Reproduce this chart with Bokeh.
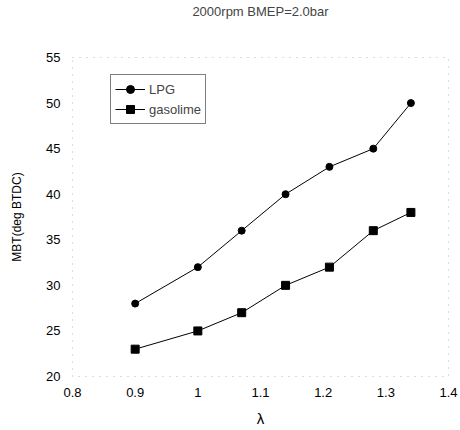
from bokeh.plotting import figure
from bokeh.embed import file_html
from bokeh.resources import INLINE
from bokeh.models import Range1d, FixedTicker, Legend, LegendItem, Title

# Data
lam = [0.9, 1.0, 1.07, 1.14, 1.21, 1.28, 1.34]
lpg = [28, 32, 36, 40, 43, 45, 50]
gasoline = [23, 25, 27, 30, 32, 36, 38]
x_ticks = [0.8, 0.9, 1.0, 1.1, 1.2, 1.3, 1.4]
y_ticks = [20, 25, 30, 35, 40, 45, 50, 55]
x_tick_labels = {0.8: "0.8", 0.9: "0.9", 1.0: "1", 1.1: "1.1", 1.2: "1.2", 1.3: "1.3", 1.4: "1.4"}
title_text = "2000rpm BMEP=2.0bar"

FONT = "Liberation Sans"

p = figure(width=460, height=430, output_backend="svg", toolbar_location=None,
           x_range=Range1d(0.8, 1.4), y_range=Range1d(20, 55),
           min_border_left=72, min_border_right=12, min_border_top=57, min_border_bottom=54)

# two trailing empty lines lift the title text away from the frame
p.title = Title(text=title_text + "\n\n", align="center", vertical_align="bottom",
                text_font=FONT, text_font_size="13px", text_font_style="normal",
                text_line_height=1.3, offset=10, standoff=0)

p.grid.visible = False
p.outline_line_color = "#bbbbbb"
p.outline_line_dash = "1 6"
p.outline_line_width = 1
p.background_fill_color = "white"
p.border_fill_color = "white"

for ax in (p.xaxis[0], p.yaxis[0]):
    ax.axis_line_color = None
    ax.major_tick_line_color = None
    ax.minor_tick_line_color = None
    ax.major_label_text_font = FONT
    ax.major_label_text_font_size = "13px"
    ax.major_label_text_color = "black"
    ax.axis_label_text_font = FONT
    ax.axis_label_text_font_style = "normal"
    ax.axis_label_text_color = "black"

p.xaxis.ticker = FixedTicker(ticks=x_ticks)
p.xaxis.major_label_overrides = x_tick_labels
p.xaxis.major_label_standoff = 5
p.xaxis.axis_label = "λ"
p.xaxis.axis_label_text_font_size = "15px"
p.xaxis.axis_label_standoff = 10

p.yaxis.ticker = FixedTicker(ticks=y_ticks)
p.yaxis.major_label_standoff = 6
p.yaxis.axis_label = "MBT(deg BTDC)"
p.yaxis.axis_label_text_font_size = "12px"
p.yaxis.axis_label_standoff = 19

l1 = p.line(lam, lpg, line_color="black", line_width=1)
m1 = p.scatter(lam, lpg, marker="circle", size=7, fill_color="black", line_color="black")
l2 = p.line(lam, gasoline, line_color="black", line_width=1)
m2 = p.scatter(lam, gasoline, marker="square", size=8, fill_color="black", line_color="black")

legend = Legend(items=[LegendItem(label="LPG", renderers=[l1, m1]),
                       LegendItem(label="gasolime", renderers=[l2, m2])],
                location=(38, 252))
legend.label_text_font = FONT
legend.label_text_font_size = "13px"
legend.border_line_color = "black"
legend.border_line_width = 1.5
legend.padding = 4
legend.spacing = 0
legend.margin = 0
legend.glyph_width = 30
legend.label_standoff = 4
p.add_layout(legend)

open("out.html", "w").write(file_html(p, INLINE))
